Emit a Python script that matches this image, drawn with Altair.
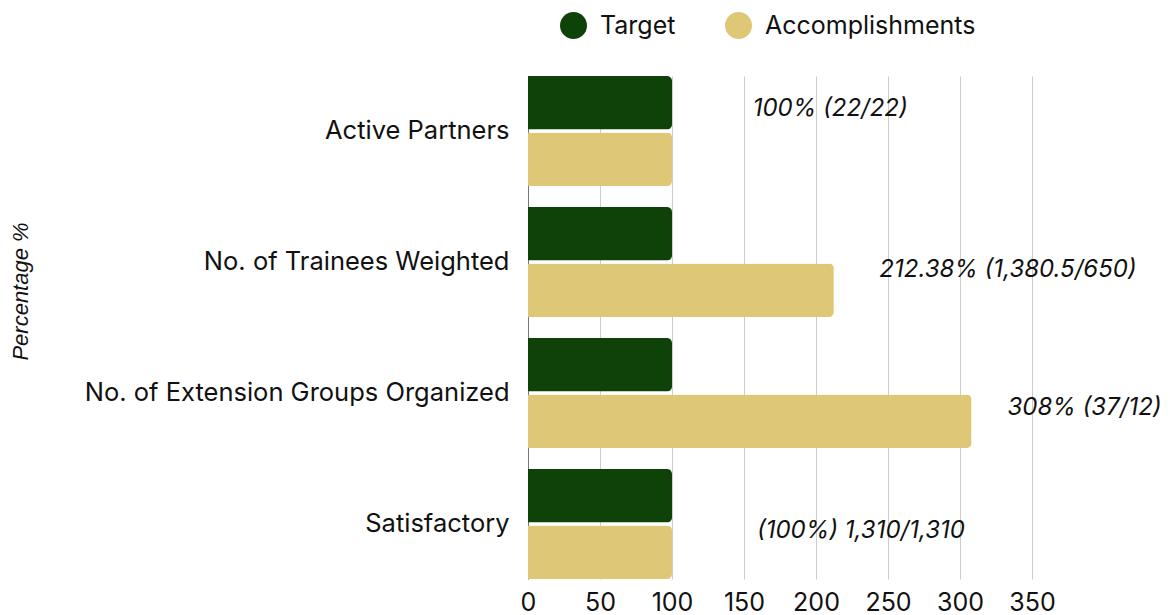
import altair as alt
import pandas as pd

categories = ["Active Partners", "No. of Trainees Weighted",
              "No. of Extension Groups Organized", "Satisfactory"]
series = ["Target", "Accomplishments"]
target = [100, 100, 100, 100]
accomplishments = [100, 212.38, 308, 100]
labels = ["100% (22/22)", "212.38% (1,380.5/650)", "308% (37/12)", "(100%) 1,310/1,310"]
x_ticks = [0, 50, 100, 150, 200, 250, 300, 350]

# annotation anchors (data units along x) and vertical nudges
label_x = [156, 244, 333, 159]
label_dy = [-22, 8, 15, 7]

colors = ["#0f4209", "#dec776"]

rows = []
for c, t, a in zip(categories, target, accomplishments):
    rows.append({"cat": c, "series": "Target", "value": t})
    rows.append({"cat": c, "series": "Accomplishments", "value": a})
df = pd.DataFrame(rows)

FONT = "Inter"

y_enc = alt.Y("cat:N", sort=categories,
              scale=alt.Scale(paddingInner=0.16, paddingOuter=0),
              axis=alt.Axis(title="Percentage %", titleX=-508, titleY=215,
                            titleAngle=270, titleAlign="center", titleBaseline="middle",
                            titleFont="Liberation Sans", titleFontStyle="italic",
                            titleFontWeight="normal", titleFontSize=22, titleColor="#111",
                            labelFont=FONT, labelFontSize=25.5, labelColor="#111",
                            labelPadding=19, labelLimit=600, ticks=False,
                            domain=True, domainColor="#777", grid=False))

x_enc = alt.X("value:Q",
              scale=alt.Scale(domain=[0, 350], nice=False),
              axis=alt.Axis(title=None, values=x_ticks, grid=True, gridColor="#cccccc",
                            ticks=False, domain=False, labelFont=FONT, labelFontSize=25,
                            labelColor="#111", labelPadding=11, labelFlush=False))

bars = alt.Chart(df).mark_bar(cornerRadiusEnd=5).encode(
    y=y_enc,
    x=x_enc,
    yOffset=alt.YOffset("series:N", sort=series, scale=alt.Scale(paddingInner=0.05)),
    color=alt.Color("series:N", sort=series,
                    scale=alt.Scale(domain=series, range=colors),
                    legend=alt.Legend(title=None, orient="none", legendX=32, legendY=-64,
                                      direction="horizontal", symbolType="circle",
                                      symbolSize=729, symbolStrokeWidth=0, symbolOpacity=1,
                                      labelFont=FONT, labelFontSize=25, labelColor="#111",
                                      labelOffset=13, columnPadding=49, padding=0,
                                      labelLimit=500)),
)

layers = [bars]
for i in range(len(categories)):
    tdf = pd.DataFrame({"cat": [categories[i]], "pos": [label_x[i]], "label": [labels[i]]})
    layers.append(
        alt.Chart(tdf).mark_text(align="left", baseline="middle", dy=label_dy[i],
                                 font=FONT, fontSize=24, fontStyle="italic",
                                 color="#111").encode(
            y=alt.Y("cat:N", sort=categories),
            x=alt.X("pos:Q"),
            text="label:N",
        )
    )

chart = alt.layer(*layers).properties(
    width=504, height=503,
    padding={"left": 1, "top": 4, "right": 0, "bottom": 0},
    background="white",
).configure_view(stroke=None)

chart.save("out.html", embed_options={"renderer": "svg", "actions": False})
